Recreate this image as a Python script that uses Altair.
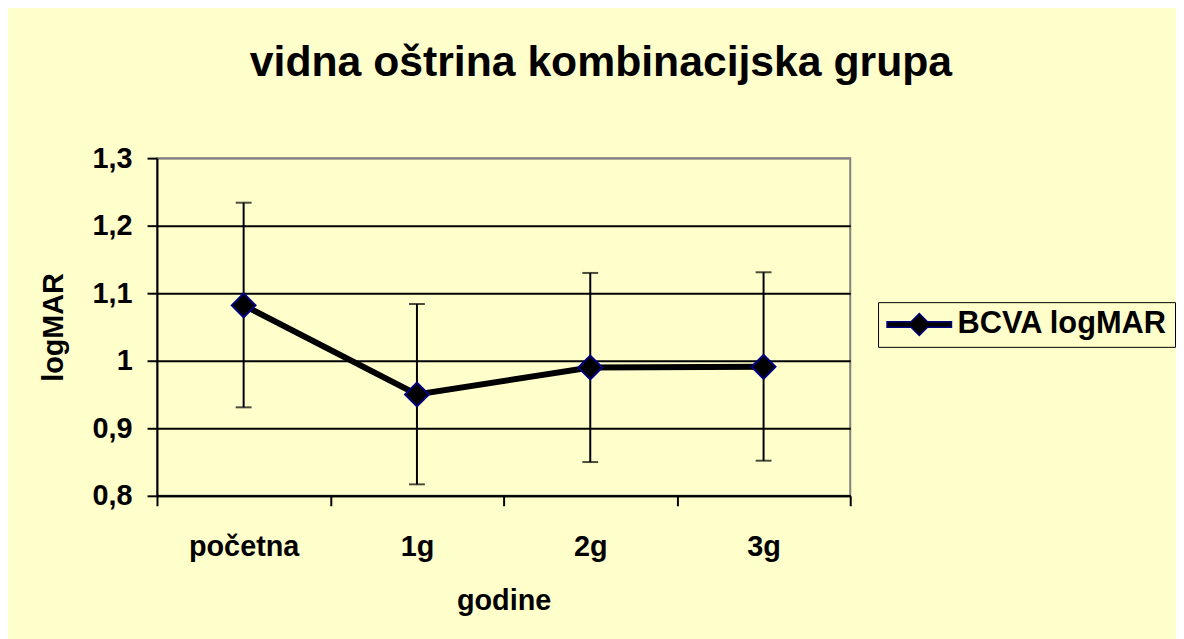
import altair as alt
import pandas as pd

categories = ["početna", "1g", "2g", "3g"]
mean_values = [1.082, 0.950, 0.990, 0.991]
upper_values = [1.234, 1.084, 1.130, 1.131]
lower_values = [0.931, 0.817, 0.850, 0.852]
series_name = "BCVA logMAR"
y_ticks = [0.8, 0.9, 1.0, 1.1, 1.2, 1.3]

df = pd.DataFrame({
    "godine": categories,
    "mean": mean_values,
    "upper": upper_values,
    "lower": lower_values,
    "series": [series_name] * len(categories),
})

FONT = "Liberation Sans"
BG = "#FFFFCC"

x_axis = alt.Axis(
    title="godine", labelAngle=0, tickBand="extent", grid=False,
    domainColor="black", domainWidth=2, tickColor="black", tickWidth=2, tickSize=10,
    labelFont=FONT, labelFontSize=29, labelFontWeight="bold", labelColor="black", labelPadding=27,
    titleFont=FONT, titleFontSize=29, titleFontWeight="bold", titleColor="black", titlePadding=25,
)
x = alt.X("godine:N", sort=categories, scale=alt.Scale(paddingInner=0, paddingOuter=0), axis=x_axis)

y_axis = alt.Axis(
    title="logMAR", values=y_ticks,
    labelExpr="replace(format(datum.value, '.1~f'), '.', ',')",
    grid=True, gridWidth=2,
    gridColor={"condition": {"test": "datum.value > 1.25", "value": "#808080"}, "value": "black"},
    domainColor="black", domainWidth=2, tickColor="black", tickWidth=2, tickSize=10,
    labelFont=FONT, labelFontSize=29, labelFontWeight="bold", labelColor="black", labelPadding=15,
    titleFont=FONT, titleFontSize=29, titleFontWeight="bold", titleColor="black", titlePadding=24,
)
y_scale = alt.Scale(domain=[0.8, 1.3], nice=False, zero=False)

symbol_path = ("M-2.95,-0.25L-0.75,-0.25L0,-1L0.75,-0.25L2.95,-0.25L2.95,0.25"
               "L0.75,0.25L0,1L-0.75,0.25L-2.95,0.25Z")

legend = alt.Legend(
    title=None, orient="none", legendX=726, legendY=145,
    symbolType=symbol_path, symbolSize=484, symbolStrokeWidth=1.5,
    symbolOffset=19, labelOffset=23, labelLimit=500,
    labelFont=FONT, labelFontSize=31, labelFontWeight="bold", labelColor="black",
    padding=7, strokeColor="black", fillColor=BG,
)

base = alt.Chart(df)

rules = base.mark_rule(color="black", strokeWidth=2).encode(
    x=x, y=alt.Y("lower:Q", scale=y_scale, axis=y_axis), y2="upper:Q"
)
caps_top = base.mark_tick(orient="horizontal", size=16, thickness=2, color="black").encode(
    x=x, y=alt.Y("upper:Q", scale=y_scale, axis=y_axis)
)
caps_bottom = base.mark_tick(orient="horizontal", size=16, thickness=2, color="black").encode(
    x=x, y=alt.Y("lower:Q", scale=y_scale, axis=y_axis)
)
line = base.mark_line(color="black", strokeWidth=6).encode(
    x=x, y=alt.Y("mean:Q", scale=y_scale, axis=y_axis)
)
points = base.mark_point(shape="diamond", filled=True, size=576, strokeWidth=2, opacity=1).encode(
    x=x, y=alt.Y("mean:Q", scale=y_scale, axis=y_axis),
    fill=alt.Fill("series:N", scale=alt.Scale(range=["black"]), legend=legend),
    stroke=alt.Stroke("series:N", scale=alt.Scale(range=["navy"]), legend=legend),
)

chart = alt.layer(rules, caps_top, caps_bottom, line, points).properties(
    width=698, height=340,
    title=alt.TitleParams(
        "vidna oštrina kombinacijska grupa", font=FONT, fontSize=43, fontWeight="bold",
        color="black", anchor="middle", dx=98, offset=26, baseline="alphabetic",
    ),
    autosize=alt.AutoSizeParams(type="none"),
    padding={"left": 150, "top": 149, "right": 328, "bottom": 142},
).configure(background=BG).configure_view(stroke="#808080", strokeWidth=2)

chart.save("out.html", embed_options={"renderer": "svg", "actions": False})
